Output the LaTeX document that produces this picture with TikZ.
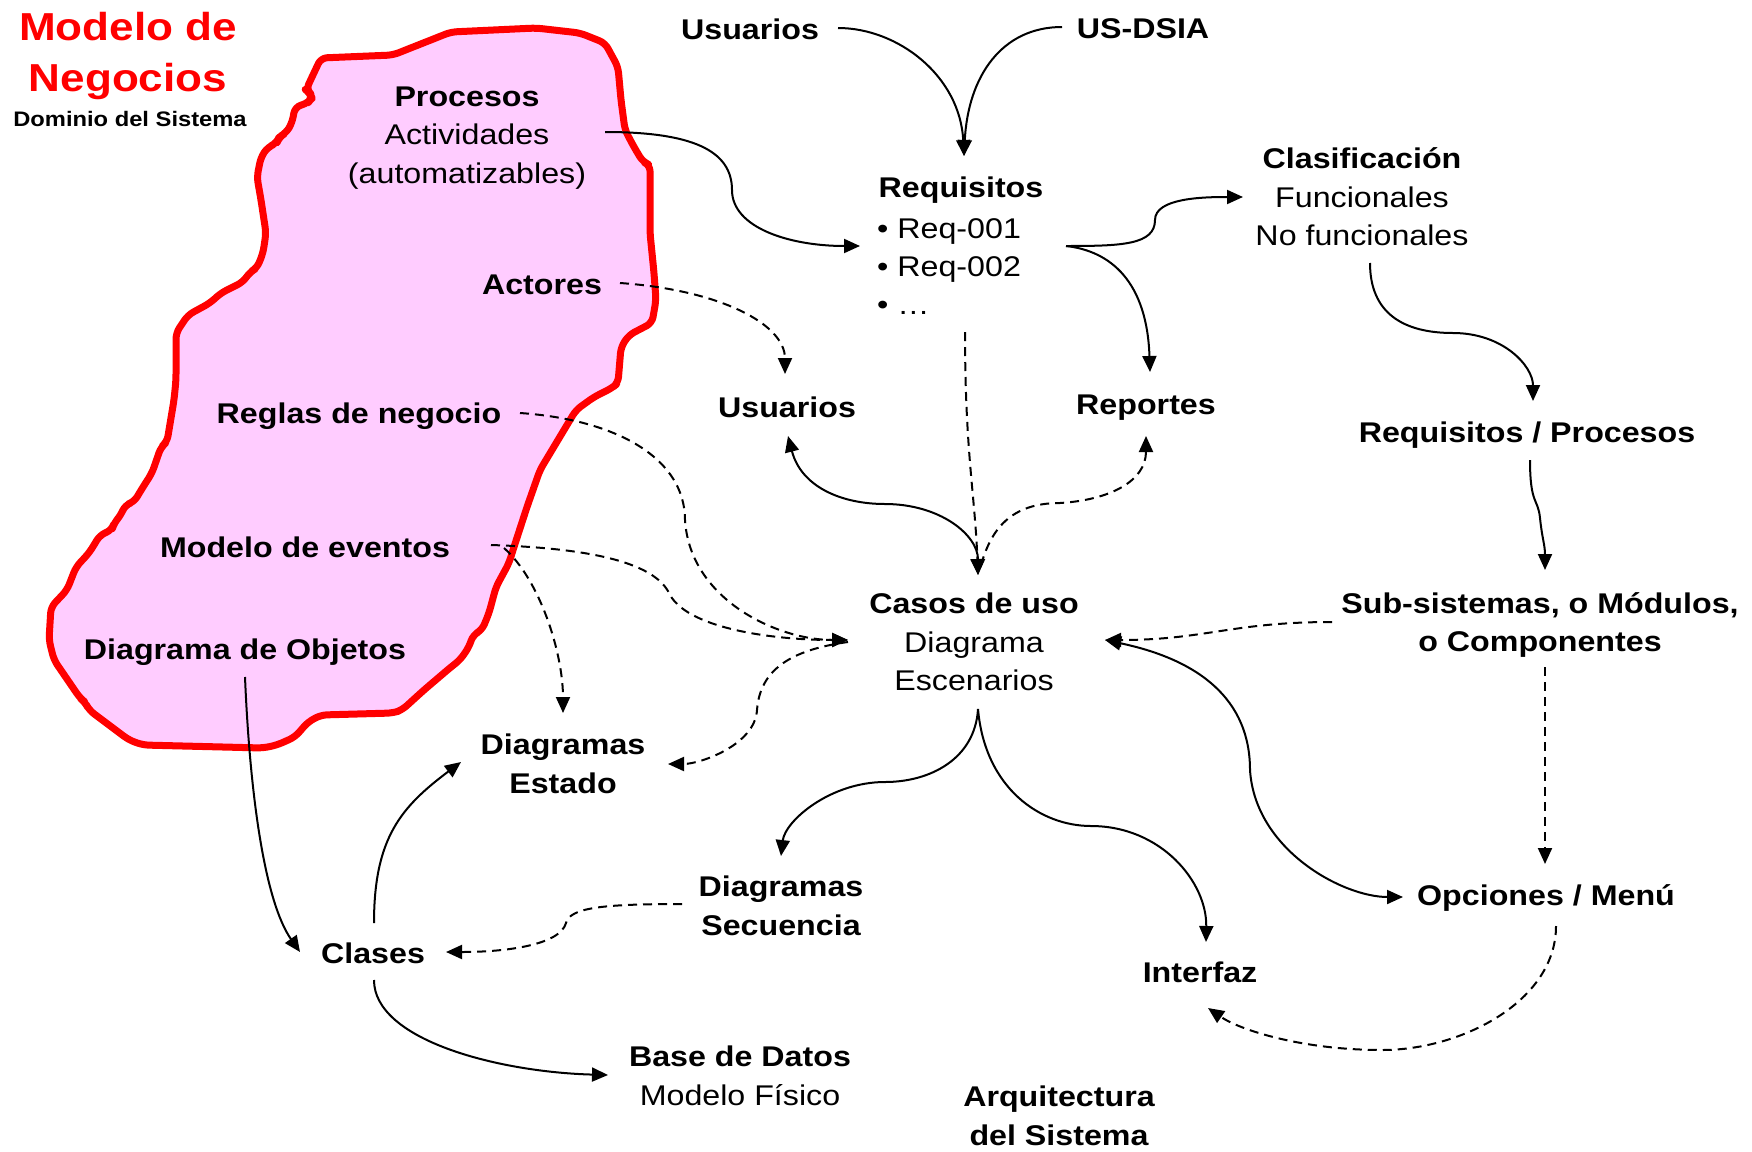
\documentclass[tikz,border=0pt]{standalone}
\usepackage{fontspec}
\setmainfont{Liberation Sans}[FakeStretch=1.13]
\usetikzlibrary{arrows.meta}
\definecolor{blobfill}{HTML}{FFCCFF}
\definecolor{blobline}{HTML}{FF0000}
\begin{document}
\begin{tikzpicture}[x=1pt,y=-1pt,
  lbl/.style={font=\fontsize{28.5}{38.5}\selectfont\bfseries, inner sep=0pt, align=center},
  tip/.style={-{Triangle[length=16pt,width=14pt]}},
  con/.style={line width=2pt, tip},
  bicon/.style={line width=2pt, {Triangle[length=16pt,width=14pt]}-{Triangle[length=16pt,width=14pt]}},
  dcon/.style={con, dash pattern=on 9pt off 6pt},
  ]
\useasboundingbox (0,0) rectangle (1752,1151);
% business-model blob
\draw[line width=7pt, draw=blobline, fill=blobfill, rounded corners=6pt, line join=round]
 (321,58) -- (393,55) -- (451,32) -- (536,28) -- (580,33) -- (605,43) -- (618,67) -- (621,100) -- (625,130) -- (634,147) -- (643,162) -- (650,165) -- (650,233) -- (654,273) -- (656,300) -- (652,323) -- (629,335) -- (621,347) -- (618,383) -- (612,388) -- (594,397) -- (576,410) -- (558,440) -- (540,470) -- (527,507) -- (513,550) -- (509,563) -- (496,587) -- (489,613) -- (482,630) -- (473,635) -- (469,647) -- (460,660) -- (451,667) -- (424,690) -- (402,710) -- (393,713) -- (321,715) -- (308,722) -- (295,737) -- (277,745) -- (263,748) -- (143,745) -- (129,740) -- (89,710) -- (85,702) -- (80,698) -- (54,660) -- (49,640) -- (51,607) -- (67,590) -- (76,567) -- (89,553) -- (94,545) -- (100,535) -- (112,530) -- (114,523) -- (121,515) -- (125,505) -- (134,502) -- (143,487) -- (152,473) -- (161,447) -- (167,442) -- (174,400) -- (176,380) -- (176,333) -- (188,315) -- (210,303) -- (221,293) -- (243,282) -- (250,272) -- (257,268) -- (263,253) -- (266,233) -- (261,200) -- (257,177) -- (261,157) -- (268,147) -- (277,143) -- (279,137) -- (286,133) -- (292,123) -- (295,107) -- (308,103) -- (312,98) -- (310,93) -- (306,90) -- (312,77) -- cycle;

% titles
\node[font=\fontsize{39}{51}\selectfont\bfseries, text=blobline, inner sep=0pt, align=center] (title) at (128,56) {Modelo de\\Negocios};
\node[font=\fontsize{21}{25}\selectfont\bfseries, inner sep=0pt] (dom) at (130,119) {Dominio del Sistema};

% nodes
\node[lbl] (proc) at (467,138) {Procesos\\\mdseries Actividades\\\mdseries (automatizables)};
\node[lbl] (act) at (542,285) {Actores};
\node[lbl] (reg) at (359,416) {Reglas de negocio};
\node[lbl] (mev) at (305,547) {Modelo de eventos};
\node[lbl] (dob) at (245,652) {Diagrama de Objetos};
\node[lbl] (usuT) at (750,29) {Usuarios};
\node[lbl] (usd) at (1143,29) {US-DSIA};
\node[lbl] (req) at (961,190) {Requisitos};
\node[lbl, align=left, anchor=west, font=\fontsize{28.5}{38}\selectfont\mdseries] (reqi) at (877,267) {• Req-001\\• Req-002\\• …};
\node[lbl] (cla) at (1362,197) {Clasificación\\\mdseries Funcionales\\\mdseries No funcionales};
\node[lbl] (usuM) at (787,407) {Usuarios};
\node[lbl] (rep) at (1146,408) {Reportes};
\node[lbl] (rp) at (1527,435) {Requisitos / Procesos};
\node[lbl] (cas) at (974,642) {Casos de uso\\\mdseries Diagrama\\\mdseries Escenarios};
\node[lbl] (sub) at (1540,625) {Sub-sistemas, o Módulos,\\o Componentes};
\node[lbl] (est) at (563,764) {Diagramas\\Estado};
\node[lbl] (sec) at (781,906) {Diagramas\\Secuencia};
\node[lbl] (opc) at (1546,898) {Opciones / Menú};
\node[lbl] (cls) at (373,953) {Clases};
\node[lbl] (itf) at (1200,972) {Interfaz};
\node[lbl] (bd) at (740,1076) {Base de Datos\\\mdseries Modelo Físico};
\node[lbl] (arq) at (1059,1116) {Arquitectura\\del Sistema};

% connectors
\draw[con] ([shift={(88,-1)}]usuT.center) .. controls +(60,0) and +(-4,-80) .. ([shift={(3,-34)}]req.center);
\draw[con] ([shift={(-81,-2)}]usd.center) .. controls +(-60,0) and +(4,-80) .. ([shift={(3,-34)}]req.center);
\draw[con] ([shift={(138,-6)}]proc.center) .. controls +(86,0) and +(0,-40) .. (732,190) .. controls +(0,38) and +(-70,0) .. ([shift={(-17,-21)}]reqi.west);
\draw[con] ([shift={(189,-21)}]reqi.west) .. controls +(55,0) and +(0,25) .. (1155,220) .. controls +(0,-22) and +(-40,0) .. ([shift={(-119,0)}]cla.center);
\draw[con] ([shift={(189,-21)}]reqi.west) .. controls +(45,5) and +(-3,-90) .. ([shift={(4,-36)}]rep.center);
\draw[con] ([shift={(8,66)}]cla.center) .. controls +(0,50) and +(-50,0) .. (1453,333) .. controls +(50,0) and +(0,-35) .. ([shift={(6,-34)}]rp.center);
\draw[con] ([shift={(3,25)}]rp.center) .. controls +(0,45) and +(-2,-20) .. (1540,518) .. controls +(2,20) and +(0,-25) .. ([shift={(5,-55)}]sub.center);
\draw[dcon] ([shift={(5,42)}]sub.center) -- ([shift={(-1,-34)}]opc.center);
\draw[dcon] ([shift={(-208,-3)}]sub.center) .. controls +(-100,0) and +(100,0) .. ([shift={(131,-2)}]cas.center);
\draw[bicon] ([shift={(131,-2)}]cas.center) .. controls +(95,20) and +(0,-70) .. (1250,770) .. controls +(5,80) and +(-60,0) .. ([shift={(-143,-1)}]opc.center);
\draw[bicon] ([shift={(1,29)}]usuM.center) .. controls +(13,50) and +(-45,0) .. (885,504) .. controls +(55,0) and +(0,-40) .. ([shift={(4,-67)}]cas.center);
\draw[dcon] ([shift={(4,142)}]req.center) .. controls +(0,120) and +(-3,-80) .. ([shift={(4,-67)}]cas.center);
\draw[dcon] ([shift={(7,-77)}]cas.center) .. controls +(10,-35) and +(-50,0) .. (1060,503) .. controls +(50,-3) and +(0,45) .. ([shift={(0,28)}]rep.center);
\draw[dcon] ([shift={(78,-2)}]act.center) .. controls +(100,7) and +(0,-50) .. ([shift={(-2,-33)}]usuM.center);
\draw[dcon] ([shift={(161,-3)}]reg.center) .. controls +(100,7) and +(0,-60) .. (685,520) .. controls +(5,80) and +(-70,0) .. ([shift={(-126,-2)}]cas.center);
\draw[dcon] ([shift={(186,-2)}]mev.center) .. controls +(90,3) and +(-15,-35) .. (670,595) .. controls +(20,35) and +(-70,0) .. ([shift={(-126,-2)}]cas.center);
\draw[dcon] ([shift={(199,1)}]mev.center) .. controls +(36,32) and +(0,-60) .. ([shift={(0,-51)}]est.center);
\draw[dcon] ([shift={(-126,0)}]cas.center) .. controls +(-58,8) and +(3,-40) .. (757,710) .. controls +(-2,35) and +(32,0) .. ([shift={(105,0)}]est.center);
\draw[con] ([shift={(0,25)}]dob.center) .. controls +(5,120) and +(-35,-50) .. ([shift={(-73,-1)}]cls.center);
\draw[con] ([shift={(1,-30)}]cls.center) .. controls +(0,-85) and +(-60,45) .. ([shift={(-102,-2)}]est.center);
\draw[dcon] ([shift={(-99,-2)}]sec.center) .. controls +(-82,0) and +(4,-15) .. (566,923) .. controls +(-6,22) and +(60,0) .. ([shift={(73,-1)}]cls.center);
\draw[con] ([shift={(4,67)}]cas.center) .. controls +(-3,50) and +(45,0) .. (885,782) .. controls +(-55,0) and +(4,-35) .. ([shift={(0,-50)}]sec.center);
\draw[con] ([shift={(4,67)}]cas.center) .. controls +(7,80) and +(-50,0) .. (1091,826) .. controls +(70,0) and +(1,-60) .. ([shift={(6,-30)}]itf.center);
\draw[dcon] ([shift={(10,28)}]opc.center) .. controls +(0,75) and +(80,0) .. (1382,1050) .. controls +(-80,0) and +(32,22) .. ([shift={(8,36)}]itf.center);
\draw[con] ([shift={(1,27)}]cls.center) .. controls +(0,60) and +(-110,-3) .. ([shift={(-132,-1)}]bd.center);
\end{tikzpicture}
\end{document}
